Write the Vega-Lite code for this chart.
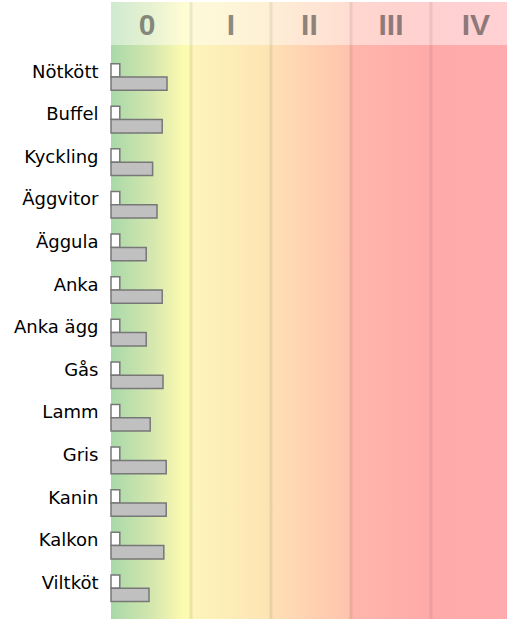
{
  "$schema": "https://vega.github.io/schema/vega-lite/v6.json",
  "padding": {"left": 13, "top": 0, "right": 0, "bottom": 0},
  "autosize": {"type": "pad"},
  "spacing": 0,
  "bounds": "flush",
  "config": {"view": {"stroke": null}, "font": "DejaVu Sans"},
  "datasets": {
    "bg": [{"start": 0, "end": 4.95}],
    "lines": [{"pos": 1}, {"pos": 2}, {"pos": 3}, {"pos": 4}],
    "header": [
      {"label": "0", "pos": 0.45},
      {"label": "I", "pos": 1.5},
      {"label": "II", "pos": 2.48},
      {"label": "III", "pos": 3.5},
      {"label": "IV", "pos": 4.56}
    ],
    "bars": [
      {"food": "Nötkött", "series": "white", "value": 0.11},
      {"food": "Nötkött", "series": "gray", "value": 0.70},
      {"food": "Buffel", "series": "white", "value": 0.11},
      {"food": "Buffel", "series": "gray", "value": 0.64},
      {"food": "Kyckling", "series": "white", "value": 0.11},
      {"food": "Kyckling", "series": "gray", "value": 0.52},
      {"food": "Äggvitor", "series": "white", "value": 0.11},
      {"food": "Äggvitor", "series": "gray", "value": 0.575},
      {"food": "Äggula", "series": "white", "value": 0.11},
      {"food": "Äggula", "series": "gray", "value": 0.44},
      {"food": "Anka", "series": "white", "value": 0.11},
      {"food": "Anka", "series": "gray", "value": 0.64},
      {"food": "Anka ägg", "series": "white", "value": 0.11},
      {"food": "Anka ägg", "series": "gray", "value": 0.44},
      {"food": "Gås", "series": "white", "value": 0.11},
      {"food": "Gås", "series": "gray", "value": 0.65},
      {"food": "Lamm", "series": "white", "value": 0.11},
      {"food": "Lamm", "series": "gray", "value": 0.49},
      {"food": "Gris", "series": "white", "value": 0.11},
      {"food": "Gris", "series": "gray", "value": 0.69},
      {"food": "Kanin", "series": "white", "value": 0.11},
      {"food": "Kanin", "series": "gray", "value": 0.69},
      {"food": "Kalkon", "series": "white", "value": 0.11},
      {"food": "Kalkon", "series": "gray", "value": 0.66},
      {"food": "Viltköt", "series": "white", "value": 0.11},
      {"food": "Viltköt", "series": "gray", "value": 0.475}
    ]
  },
  "vconcat": [
    {
      "width": 396,
      "height": 43,
      "layer": [
        {
          "data": {"name": "bg"},
          "mark": {"type": "rect", "color": {"gradient": "linear", "x1": 0, "y1": 0, "x2": 1, "y2": 0, "stops": [
            {"offset": 0, "color": "#a9d9a9"},
            {"offset": 0.1, "color": "#d3e6ae"},
            {"offset": 0.18, "color": "#fcfab0"},
            {"offset": 0.2, "color": "#fdfbb0"},
            {"offset": 0.203, "color": "#fdf5bb"},
            {"offset": 0.399, "color": "#fde4b3"},
            {"offset": 0.404, "color": "#fee0b4"},
            {"offset": 0.601, "color": "#ffc3ae"},
            {"offset": 0.606, "color": "#ffb6aa"},
            {"offset": 0.806, "color": "#ffaaaa"},
            {"offset": 1, "color": "#ffabad"}
          ]}},
          "encoding": {
            "x": {"field": "start", "type": "quantitative", "scale": {"domain": [0, 4.95], "nice": false}, "axis": null},
            "x2": {"field": "end"}
          }
        },
        {
          "data": {"name": "bg"},
          "mark": {"type": "rect", "color": "#ffffff", "opacity": 0.45},
          "encoding": {
            "x": {"field": "start", "type": "quantitative"},
            "x2": {"field": "end"}
          }
        },
        {
          "data": {"name": "lines"},
          "mark": {"type": "rule", "color": "#000000", "opacity": 0.07, "strokeWidth": 3},
          "encoding": {"x": {"field": "pos", "type": "quantitative"}}
        },
        {
          "data": {"name": "header"},
          "mark": {"type": "text", "font": "Liberation Sans", "fontWeight": "bold", "fontSize": 30, "color": "#333333", "opacity": 0.55, "baseline": "middle", "dy": 2.5},
          "encoding": {
            "x": {"field": "pos", "type": "quantitative"},
            "text": {"field": "label"}
          }
        }
      ]
    },
    {
      "width": 396,
      "height": 576,
      "layer": [
        {
          "data": {"name": "bg"},
          "mark": {"type": "rect", "color": {"gradient": "linear", "x1": 0, "y1": 0, "x2": 1, "y2": 0, "stops": [
            {"offset": 0, "color": "#a9d9a9"},
            {"offset": 0.1, "color": "#d3e6ae"},
            {"offset": 0.18, "color": "#fcfab0"},
            {"offset": 0.2, "color": "#fdfbb0"},
            {"offset": 0.203, "color": "#fdf5bb"},
            {"offset": 0.399, "color": "#fde4b3"},
            {"offset": 0.404, "color": "#fee0b4"},
            {"offset": 0.601, "color": "#ffc3ae"},
            {"offset": 0.606, "color": "#ffb6aa"},
            {"offset": 0.806, "color": "#ffaaaa"},
            {"offset": 1, "color": "#ffabad"}
          ]}},
          "encoding": {
            "x": {"field": "start", "type": "quantitative", "scale": {"domain": [0, 4.95], "nice": false}, "axis": null},
            "x2": {"field": "end"}
          }
        },
        {
          "data": {"name": "lines"},
          "mark": {"type": "rule", "color": "#000000", "opacity": 0.07, "strokeWidth": 3},
          "encoding": {"x": {"field": "pos", "type": "quantitative"}}
        },
        {
          "data": {"name": "bars"},
          "mark": {"type": "bar", "stroke": "#777777", "strokeWidth": 1.5, "cornerRadius": 0},
          "encoding": {
            "y": {
              "field": "food", "type": "nominal",
              "scale": {"domain": ["Nötkött", "Buffel", "Kyckling", "Äggvitor", "Äggula", "Anka", "Anka ägg", "Gås", "Lamm", "Gris", "Kanin", "Kalkon", "Viltköt"], "paddingInner": 0, "paddingOuter": 0.26, "align": 0.28},
              "axis": {"title": null, "domain": false, "ticks": false, "tickSize": 0, "labelPadding": 13, "labelFont": "DejaVu Sans", "labelFontSize": 18, "labelColor": "#000000"}
            },
            "yOffset": {"field": "series", "type": "nominal", "scale": {"domain": ["white", "gray"], "paddingInner": 0, "paddingOuter": 0.6, "align": 0.78}},
            "x": {"field": "value", "type": "quantitative"},
            "color": {"field": "series", "type": "nominal", "scale": {"domain": ["white", "gray"], "range": ["#ffffff", "#c0c0c0"]}, "legend": null}
          }
        }
      ]
    }
  ]
}
